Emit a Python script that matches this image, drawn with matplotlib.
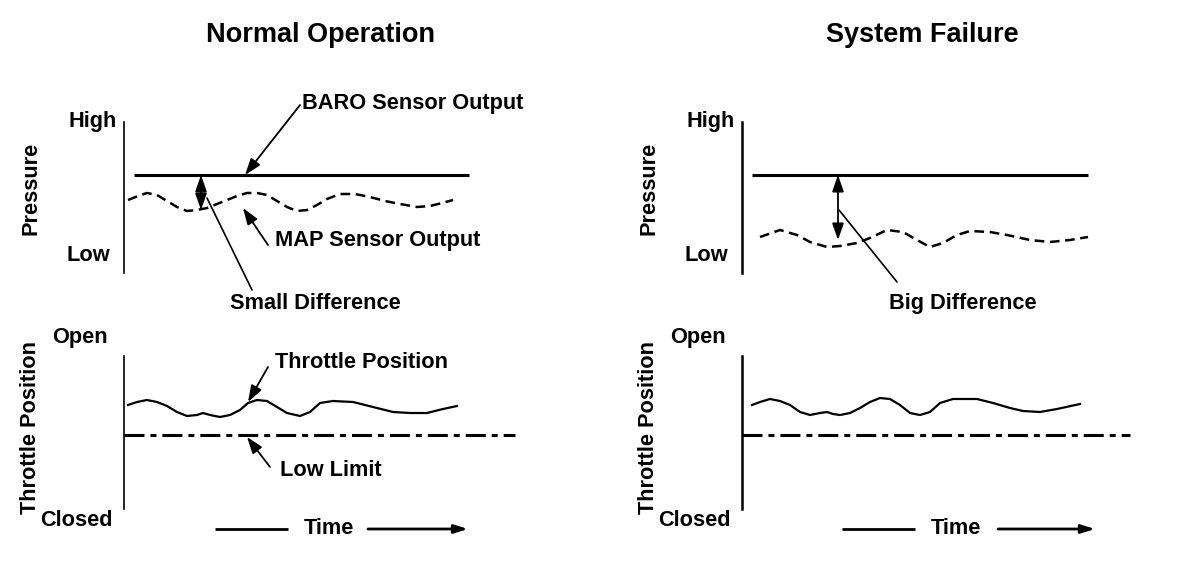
import matplotlib
matplotlib.use('Agg')
import matplotlib.pyplot as plt

plt.rcParams['font.family'] = ['Liberation Sans', 'DejaVu Sans']
plt.rcParams['font.weight'] = 'bold'
plt.rcParams['lines.scale_dashes'] = False

# --- data (time units along x, signal level along y) ---
baro_level = 98
baro_left_t = [10, 345]
baro_right_t = [10, 346]

map_left_t = [4, 14, 23, 33, 43, 53, 63, 73, 83, 93, 103, 113, 123, 133, 143,
              153, 163, 173, 183, 193, 203, 216, 231, 246, 261, 276, 293, 306, 318, 329]
map_left_p = [73, 77, 80, 78, 72, 66, 62, 63, 65, 69, 73, 77, 80, 80, 78,
              72, 66, 62, 63, 68, 74, 79, 79, 76, 72, 69, 66, 67, 70, 73]

map_right_t = [18, 38, 55, 68, 85, 98, 115, 128, 145, 161, 175, 188, 201, 215,
               228, 248, 265, 288, 308, 328, 346]
map_right_p = [36, 43, 38, 31, 26, 27, 30, 35, 43, 41, 33, 26, 30, 38,
               42, 41, 38, 33, 31, 33, 36]

thr_left_t = [4, 13, 23, 33, 43, 53, 63, 73, 79, 86, 96, 106, 116, 124, 133,
              143, 153, 163, 176, 186, 196, 209, 229, 249, 269, 286, 303, 319, 333]
thr_left_q = [104, 107, 109, 107, 103, 97, 93, 94, 96, 94, 92, 94, 99, 106, 109,
              108, 102, 96, 93, 97, 106, 108, 107, 102, 97, 96, 96, 100, 103]

thr_right_t = [10, 18, 28, 38, 48, 58, 68, 78, 85, 91, 98, 108, 118, 128, 138,
               148, 158, 168, 178, 188, 198, 211, 221, 235, 251, 268, 281, 298, 315, 338]
thr_right_q = [104, 107, 110, 108, 104, 97, 94, 96, 97, 95, 94, 96, 101, 107, 111,
               110, 104, 96, 94, 97, 106, 110, 110, 110, 106, 101, 98, 97, 100, 105]

low_limit = 74
low_left_t = [0, 391]
low_right_t = [0, 388]

# --- figure ---
W, H = 1184, 568
fig = plt.figure(figsize=(W / 100, H / 100), dpi=100)


def make_ax(x0, ytop, ybot, width, spine_lw):
    ax = fig.add_axes([x0 / W, 1 - ybot / H, width / W, (ybot - ytop) / H])
    ax.set_xlim(0, width)
    ax.set_ylim(0, ybot - ytop)
    for s in ['top', 'right', 'bottom']:
        ax.spines[s].set_visible(False)
    ax.spines['left'].set_linewidth(spine_lw)
    ax.set_xticks([])
    ax.set_yticks([])
    ax.patch.set_alpha(0)
    return ax


def arrow(ax, tip, tail, style='-|>', lw=1.3, hl=1.0, hw=0.35):
    ax.annotate('', xy=tip, xytext=tail, annotation_clip=False,
                arrowprops=dict(arrowstyle=f'{style},head_length={hl},head_width={hw}',
                                color='black', lw=lw, shrinkA=0, shrinkB=0,
                                mutation_scale=10))


LBL = 15.7
ax_tl = make_ax(124, 122, 273, 400, 1.2)
ax_bl = make_ax(124, 356, 509, 400, 1.2)
ax_tr = make_ax(742, 122, 273, 400, 1.8)
ax_br = make_ax(742, 356, 509, 400, 1.8)

dash = (0, (7, 4))
dashdot = (0, (14.4, 4.3, 4.3, 4.3))

for ax_t, ax_b, baro_t, mt, mp, tt, tq, lt, title, title_t in [
        (ax_tl, ax_bl, baro_left_t, map_left_t, map_left_p, thr_left_t, thr_left_q,
         low_left_t, 'Normal Operation', 196),
        (ax_tr, ax_br, baro_right_t, map_right_t, map_right_p, thr_right_t, thr_right_q,
         low_right_t, 'System Failure', 180)]:
    ax_t.plot(baro_t, [baro_level] * 2, color='black', lw=2.2, solid_capstyle='butt')
    ax_t.plot(mt, mp, color='black', lw=1.8, linestyle=dash)
    ax_b.plot(tt, tq, color='black', lw=1.6)
    ax_b.plot(lt, [low_limit] * 2, color='black', lw=2.2, linestyle=dashdot)

    # axis words
    ax_t.text(-56, 152, 'High', fontsize=LBL, ha='left', va='center')
    ax_t.text(-57, 18, 'Low', fontsize=LBL, ha='left', va='center')
    ax_t.text(-93, 85, 'Pressure', fontsize=LBL, ha='center', va='center', rotation=90)
    ax_b.text(-72, 172, 'Open', fontsize=LBL, ha='left', va='center')
    ax_b.text(-84, -11, 'Closed', fontsize=LBL, ha='left', va='center')
    ax_b.text(-93, 82, 'Throttle Position', fontsize=LBL, ha='center', va='center',
              rotation=90)
    ax_t.text(title_t, 238, title, fontsize=19.5, ha='center', va='center')

# left top annotations
ax_tl.text(178, 170, 'BARO Sensor Output', fontsize=LBL, ha='left', va='center')
arrow(ax_tl, (121, 98), (176, 168))
ax_tl.text(151, 33, 'MAP Sensor Output', fontsize=LBL, ha='left', va='center')
arrow(ax_tl, (119, 65), (144, 28))
arrow(ax_tl, (77, 98), (77, 63), style='<|-|>')
ax_tl.annotate('', xy=(83, 75), xytext=(128, -17), annotation_clip=False,
               arrowprops=dict(arrowstyle='-', color='black', lw=1.2,
                               shrinkA=0, shrinkB=0))
ax_tl.text(191, -30, 'Small Difference', fontsize=LBL, ha='center', va='center')

# right top annotations
arrow(ax_tr, (96, 98), (96, 33), style='<|-|>')
ax_tr.annotate('', xy=(97, 63), xytext=(155, -9), annotation_clip=False,
               arrowprops=dict(arrowstyle='-', color='black', lw=1.2,
                               shrinkA=0, shrinkB=0))
ax_tr.text(221, -30, 'Big Difference', fontsize=LBL, ha='center', va='center')

# left bottom annotations
ax_bl.text(151, 146, 'Throttle Position', fontsize=LBL, ha='left', va='center')
arrow(ax_bl, (124, 107), (144, 142))
ax_bl.text(156, 39, 'Low Limit', fontsize=LBL, ha='left', va='center')
arrow(ax_bl, (123, 72), (146, 42))

# time arrows
for ax, seg, tc, arr in [(ax_bl, (91, 164), 205, (244, 344)),
                         (ax_br, (100, 173), 214, (256, 353))]:
    ax.plot(seg, [-20, -20], color='black', lw=2.0, clip_on=False,
            solid_capstyle='butt')
    ax.text(tc, -20, 'Time', fontsize=LBL, ha='center', va='center')
    arrow(ax, (arr[1], -20), (arr[0], -20), lw=2.0, hl=0.8, hw=0.25)

fig.savefig('out.png', dpi=100, facecolor='white')
